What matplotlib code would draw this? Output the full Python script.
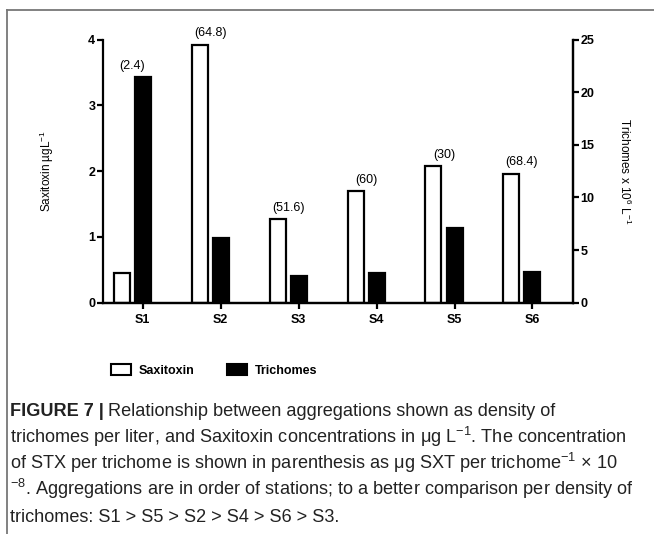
import matplotlib
matplotlib.use('Agg')
import matplotlib.pyplot as plt
from matplotlib.patches import Patch
from matplotlib.lines import Line2D
import numpy as np

plt.rcParams['font.family'] = ['Liberation Sans', 'DejaVu Sans']
plt.rcParams['mathtext.fontset'] = 'custom'
plt.rcParams['mathtext.rm'] = 'Liberation Sans'
plt.rcParams['mathtext.it'] = 'Liberation Sans:italic'
plt.rcParams['mathtext.bf'] = 'Liberation Sans:bold'

# data
stations = ['S1', 'S2', 'S3', 'S4', 'S5', 'S6']
saxitoxin = [0.45, 3.92, 1.27, 1.69, 2.07, 1.96]      # ug/L, left axis
trichomes = [21.4, 6.1, 2.5, 2.85, 7.1, 2.9]          # x10^6 /L, right axis
stx_per_trichome = ['(2.4)', '(64.8)', '(51.6)', '(60)', '(30)', '(68.4)']

W, H = 654, 534
fig = plt.figure(figsize=(W / 100, H / 100), dpi=100)
ax = fig.add_axes([103 / W, 1 - 302.7 / H, 470 / W, 263.2 / H])
ax2 = ax.twinx()

x = np.arange(len(stations))
w = 0.205
off = 0.27
ax.bar(x - off, saxitoxin, w, color='white', edgecolor='black', linewidth=1.6, zorder=2)
ax2.bar(x, trichomes, w, color='black', edgecolor='black', linewidth=1.6, zorder=2)

ax.set_xlim(-0.51, 5.52)
ax.set_ylim(0, 4)
ax2.set_ylim(0, 25)
ax.set_yticks([0, 1, 2, 3, 4])
ax2.set_yticks([0, 5, 10, 15, 20, 25])
ax.set_xticks(x)
ax.set_xticklabels(stations)

for a in (ax, ax2):
    a.spines['top'].set_visible(False)
    for s in a.spines.values():
        s.set_linewidth(1.6)
    a.tick_params(width=1.6, length=4, labelsize=9, pad=1.5)
    for lbl in a.get_xticklabels() + a.get_yticklabels():
        lbl.set_fontweight('bold')
ax.tick_params(axis='x', pad=4)
ax2.spines['left'].set_visible(False)

ax.set_ylabel('Saxitoxin µgL$^{-1}$', fontsize=8.5, labelpad=23)
ax2.set_ylabel('Trichomes x 10$^{6}$ L$^{-1}$', fontsize=8.5, rotation=-90,
               labelpad=16, va='bottom')

# STX per trichome labels above the taller bar of each station
for i in range(len(stations)):
    top = max(saxitoxin[i], trichomes[i] * 4 / 25)
    ax.annotate(stx_per_trichome[i], (x[i] - off / 2, top), xytext=(0, 4),
                textcoords='offset points', ha='center', va='bottom', fontsize=9)

handles = [Patch(facecolor='white', edgecolor='black', linewidth=1.5, label='Saxitoxin'),
           Patch(facecolor='black', edgecolor='black', linewidth=1.5, label='Trichomes')]
fig.legend(handles=handles, loc='upper left', bbox_to_anchor=(100 / W, 1 - 353 / H),
           ncol=2, frameon=False, prop={'weight': 'bold', 'size': 9},
           handlelength=1.6, handleheight=0.95, handletextpad=0.6, columnspacing=2.6)

# frame
fig.add_artist(Line2D([7 / W, 1], [1 - 10 / H, 1 - 10 / H], color='#777777', lw=1.3,
                      transform=fig.transFigure))
fig.add_artist(Line2D([7 / W, 7 / W], [0, 1 - 10 / H], color='#777777', lw=1.3,
                      transform=fig.transFigure))

# caption
cap_size = 13.1
cap_color = '#222222'
lines = [
    'Relationship between aggregations shown as density of',
    'trichomes per liter, and Saxitoxin concentrations in μg L$^{-1}$. The concentration',
    'of STX per trichome is shown in parenthesis as μg SXT per trichome$^{-1}$ $\\times$ 10',
    '$^{-8}$. Aggregations are in order of stations; to a better comparison per density of',
    'trichomes: S1 > S5 > S2 > S4 > S6 > S3.',
]
baselines = [416, 443, 469, 495, 522]
x0 = 10 / W
fig.canvas.draw()
r = fig.canvas.get_renderer()
t = fig.text(x0, 1 - baselines[0] / H, 'FIGURE 7 |', fontsize=cap_size, fontweight='bold',
             color=cap_color, va='baseline')
bb = t.get_window_extent(renderer=r)
fig.text(bb.x1 / W + 4 / W, 1 - baselines[0] / H, lines[0], fontsize=cap_size,
         color=cap_color, va='baseline')
for txt, yb in zip(lines[1:], baselines[1:]):
    fig.text(x0, 1 - yb / H, txt, fontsize=cap_size, color=cap_color, va='baseline')

fig.savefig('out.png', dpi=100)
